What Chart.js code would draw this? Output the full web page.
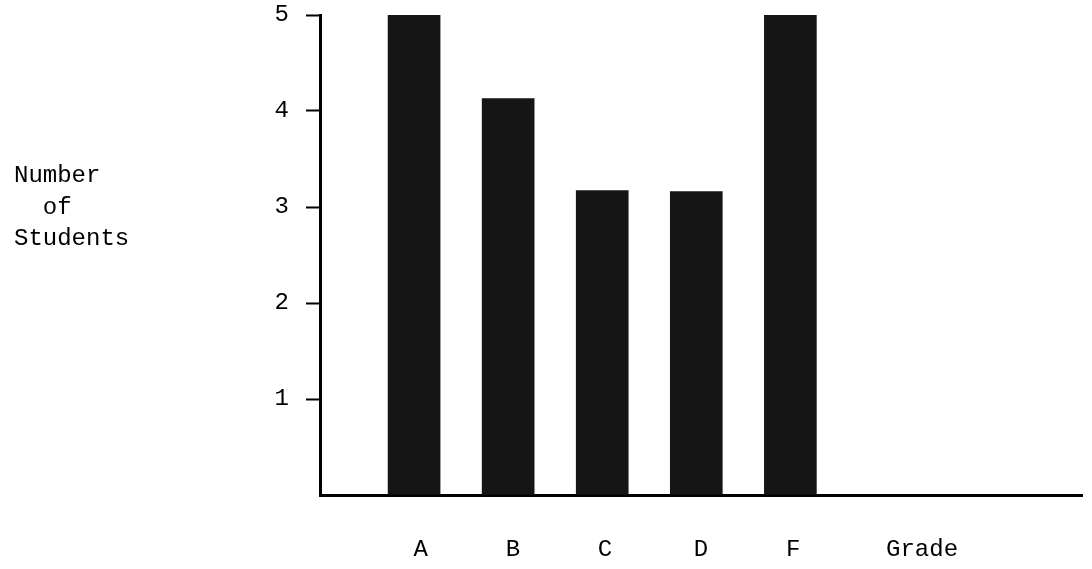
<!DOCTYPE html>
<html>
<head>
<meta charset="utf-8">
<script src="https://cdn.jsdelivr.net/npm/chart.js@4"></script>
<style>
  html, body { margin: 0; padding: 0; background: #fff; overflow: hidden; }
</style>
</head>
<body>
<canvas id="grades-chart" width="1092" height="569"></canvas>
<script>
// grade distribution
const grades = ['A', 'B', 'C', 'D', 'F'];
const counts = [5, 4.13, 3.17, 3.16, 5.01];
const gradePositions = [1, 2, 3, 4, 5];

// x axis labels (the axis name sits in the tick row)
const xTickValues = [1.07, 2.05, 3.03, 4.05, 5.03, 6.4];
const xTickLabels = ['A', 'B', 'C', 'D', 'F', 'Grade'];

const yTitleLines = ['Number', '  of', 'Students'];

const FONT = "'Liberation Mono', 'DejaVu Sans Mono', monospace";

// y title drawn horizontally on three lines, left of the axis
const yTitlePlugin = {
  id: 'yTitle',
  afterDraw(chart) {
    const ctx = chart.ctx;
    ctx.save();
    ctx.fillStyle = '#000';
    ctx.font = '24px ' + FONT;
    ctx.textBaseline = 'alphabetic';
    const baselines = [182, 214, 245];
    yTitleLines.forEach((line, i) => {
      ctx.fillText(line, 14, baselines[i]);
    });
    ctx.restore();
  }
};

const ctx = document.getElementById('grades-chart').getContext('2d');
new Chart(ctx, {
  type: 'bar',
  data: {
    datasets: [{
      data: grades.map((g, i) => ({ x: gradePositions[i], y: counts[i] })),
      backgroundColor: '#151515',
      borderWidth: 0,
      barThickness: 52
    }]
  },
  options: {
    responsive: false,
    animation: false,
    layout: { padding: { left: 0, top: 15, right: 10, bottom: 0 } },
    plugins: {
      legend: { display: false },
      tooltip: { enabled: false }
    },
    scales: {
      x: {
        type: 'linear',
        offset: false,
        min: 0,
        max: 8.1,
        grid: { display: false, drawTicks: false },
        border: { display: true, color: '#000', width: 3 },
        afterBuildTicks: scale => {
          scale.ticks = xTickValues.map(v => ({ value: v }));
        },
        afterFit: scale => {
          scale.height = 74;
          scale.paddingLeft = 0;
          scale.paddingRight = 0;
        },
        ticks: {
          autoSkip: false,
          maxRotation: 0,
          padding: 40,
          color: '#000',
          font: { family: FONT, size: 24 },
          callback: (value, index) => xTickLabels[index]
        }
      },
      y: {
        min: 0,
        max: 5,
        grid: {
          drawOnChartArea: false,
          drawTicks: true,
          tickLength: 14,
          tickWidth: 2,
          tickColor: c => (c.tick && c.tick.value === 0 ? 'rgba(0,0,0,0)' : '#000')
        },
        border: { display: true, color: '#000', width: 3 },
        afterFit: scale => {
          scale.width = 320;
          scale.paddingTop = 0;
          scale.paddingBottom = 0;
        },
        ticks: {
          stepSize: 1,
          padding: 17,
          color: '#000',
          font: { family: FONT, size: 24 },
          callback: v => (v === 0 ? '' : v)
        }
      }
    }
  },
  plugins: [yTitlePlugin]
});
</script>
</body>
</html>
